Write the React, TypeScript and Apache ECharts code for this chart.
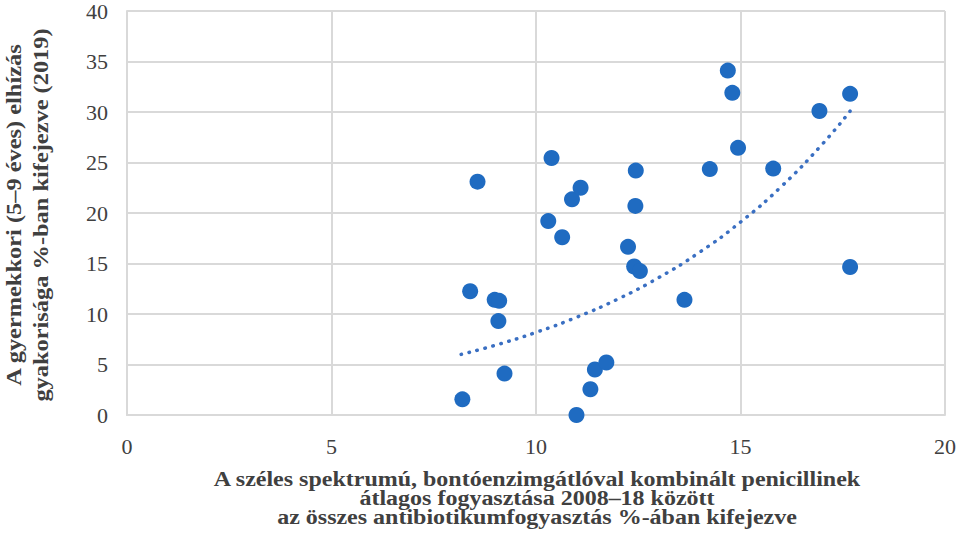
import React, { useEffect, useRef } from "react";
import * as echarts from "echarts";

const xValues: number[] = [
  8.2, 8.39, 8.57, 8.99, 9.1, 9.08, 9.23, 10.3, 10.38, 10.64,
  10.88, 11.09, 10.99, 11.33, 11.44, 11.72, 12.25, 12.4, 12.54, 12.43,
  12.44, 13.63, 14.25, 14.69, 14.8, 14.94, 15.8, 16.93, 17.68, 17.68,
];
const yValues: number[] = [
  1.55, 12.25, 23.1, 11.4, 11.3, 9.3, 4.1, 19.2, 25.45, 17.6,
  21.35, 22.5, 0, 2.55, 4.5, 5.2, 16.65, 14.7, 14.25, 20.7,
  24.2, 11.4, 24.35, 34.1, 31.9, 26.45, 24.4, 30.1, 31.8, 14.65,
];

const trendX: number[] = [8.17, 9, 10, 11, 12, 13, 14, 15, 16, 17, 17.68];
const trendY: number[] = [6.0, 6.9, 8.18, 9.69, 11.48, 13.6, 16.12, 19.1, 22.63, 26.81, 30.08];

const xTicks = { min: 0, max: 20, interval: 5 };
const yTicks = { min: 0, max: 40, interval: 5 };

const xTitle =
  "A széles spektrumú, bontóenzimgátlóval kombinált penicillinek\nátlagos fogyasztása 2008–18 között\naz összes antibiotikumfogyasztás %-ában kifejezve";
const yTitle = "A gyermekkori (5–9 éves) elhízás\ngyakorisága %-ban kifejezve (2019)";

const SERIF = "Liberation Serif";
const TEXT = "#404040";
const GRID = "#d9d9d9";
const DOT = "#1f6bc1";

export default function App() {
  const ref = useRef<HTMLDivElement>(null);
  useEffect(() => {
    if (!ref.current) return;
    const chart = echarts.init(ref.current, null, { renderer: "svg" });
    const scatterData = xValues.map((x, i) => [x, yValues[i]]);
    const trendData = trendX.map((x, i) => [x, trendY[i]]);
    chart.setOption({
      animation: false,
      grid: { left: 127, right: 14, top: 10, bottom: 133 },
      xAxis: {
        type: "value",
        min: xTicks.min,
        max: xTicks.max,
        interval: xTicks.interval,
        axisLine: { show: true, lineStyle: { color: GRID, width: 2 } },
        axisTick: { show: false },
        splitLine: { show: true, lineStyle: { color: GRID, width: 2 } },
        axisLabel: { color: TEXT, fontFamily: SERIF, fontSize: 22, margin: 20 },
      },
      yAxis: {
        type: "value",
        min: yTicks.min,
        max: yTicks.max,
        interval: yTicks.interval,
        axisLine: { show: true, lineStyle: { color: GRID, width: 2 } },
        axisTick: { show: false },
        splitLine: { show: true, lineStyle: { color: GRID, width: 2 } },
        axisLabel: {
          color: TEXT,
          fontFamily: SERIF,
          fontSize: 22,
          margin: 19,
          padding: [8, 0, 0, 0],
        },
      },
      series: [
        {
          type: "line",
          data: trendData,
          smooth: true,
          symbol: "none",
          lineStyle: { color: "#3a6fc2", width: 3.5, type: [0.5, 7.7], cap: "round" },
          z: 2,
        },
        {
          type: "scatter",
          data: scatterData,
          symbolSize: 16,
          itemStyle: { color: DOT, opacity: 1 },
          z: 3,
        },
      ],
      graphic: [
        {
          type: "text",
          x: 537,
          y: 470,
          scaleX: 1.2,
          style: {
            text: xTitle,
            fontFamily: SERIF,
            fontWeight: "bold",
            fontSize: 20,
            lineHeight: 19,
            fill: TEXT,
            align: "center",
            verticalAlign: "top",
          },
        },
        {
          type: "text",
          x: 27.5,
          y: 215,
          rotation: Math.PI / 2,
          scaleX: 1.22,
          style: {
            text: yTitle,
            fontFamily: SERIF,
            fontWeight: "bold",
            fontSize: 20,
            lineHeight: 27,
            fill: TEXT,
            align: "center",
            verticalAlign: "middle",
          },
        },
      ],
    });
    return () => chart.dispose();
  }, []);
  return (
    <div
      ref={ref}
      style={{ position: "absolute", left: 0, top: 0, width: 959, height: 548 }}
    />
  );
}
